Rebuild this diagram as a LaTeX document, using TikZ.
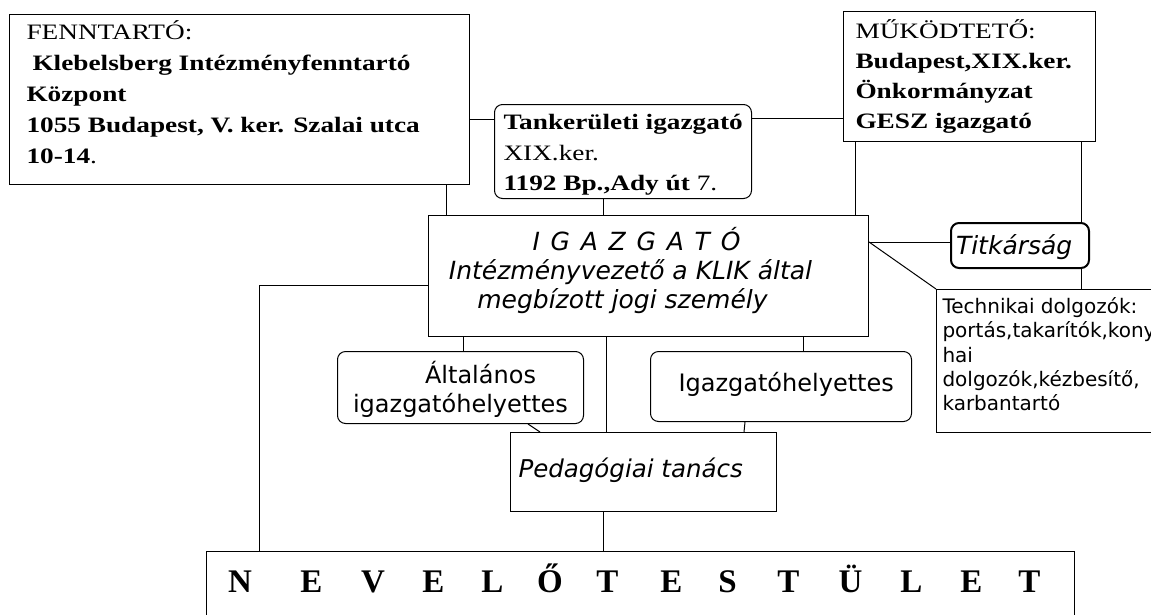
\documentclass[tikz,border=0pt]{standalone}
\usepackage{fontspec}
\usetikzlibrary{calc}
\newfontfamily\topfont[FakeStretch=1.24]{Liberation Serif}
\newfontfamily\nevfont{Liberation Serif}
\newfontfamily\sansf{DejaVu Sans}
\newcommand\nvl[2]{\hspace*{#1pt}\makebox[0pt]{#2}}
\newcommand\lsp{\hspace{10.8pt}}
\begin{document}
\begin{tikzpicture}[x=1pt,y=-1pt,
  box/.style={draw=black,line width=1pt,inner sep=0pt,anchor=north west},
  rbox/.style={box,rounded corners=8pt},
  conn/.style={draw=black,line width=1pt}]
\useasboundingbox (0,0) rectangle (1151,614);
\clip (0,0) rectangle (1151,614);
\fill[white] (0,0) rectangle (1151,614);

% top boxes
\node[box] (fenn) at (9,14) {\begin{minipage}[t][170pt][t]{460pt}\topfont\bfseries\fontsize{22pt}{31pt}\selectfont\leftskip=17pt
\rule{0pt}{25pt}{\mdseries FENNTARTÓ:}\\
\hspace*{6pt}Klebelsberg Intézményfenntartó\\
Központ\\
1055 Budapest, V. ker. Szalai utca\\
10-14{\mdseries .}
\end{minipage}};

\node[rbox] (tank) at (494,104) {\begin{minipage}[t][94pt][t]{257pt}\topfont\bfseries\fontsize{22pt}{30.5pt}\selectfont\leftskip=9pt
\rule{0pt}{25pt}Tankerületi igazgató\\
{\mdseries XIX.ker.}\\
1192 Bp.,Ady út {\mdseries 7.}
\end{minipage}};

\node[box] (muk) at (843,11) {\begin{minipage}[t][130pt][t]{252pt}\topfont\bfseries\fontsize{22pt}{30pt}\selectfont\leftskip=12pt
\rule{0pt}{27pt}{\mdseries MŰKÖDTETŐ:}\\
Budapest,XIX.ker.\\
Önkormányzat\\
GESZ igazgató
\end{minipage}};

% director
\node[box] (igaz) at (428,215) {\begin{minipage}[t][121pt][t]{440pt}\sansf\itshape\fontsize{25pt}{29pt}\selectfont\centering\rightskip=36pt plus 1fil
\rule{0pt}{35pt}\hspace*{12pt}I\lsp G\lsp A\lsp Z\lsp G\lsp A\lsp T\lsp Ó\\
Intézményvezető a KLIK által\\
\hspace*{-16pt}megbízott jogi személy
\end{minipage}};

\node[rbox,line width=2pt] (tit) at (950,222) {\begin{minipage}[t][45pt][t]{138pt}\sansf\itshape\fontsize{25pt}{29pt}\selectfont\leftskip=5pt
\rule{0pt}{31pt}Titkárság
\end{minipage}};

\node[box] (tech) at (936,289) {\begin{minipage}[t][143pt][t]{235pt}\sansf\fontsize{20pt}{24.3pt}\selectfont\leftskip=6pt
\rule{0pt}{24pt}Technikai dolgozók:\\
portás,takarítók,kony-\\
hai\\
dolgozók,kézbesítő,\\
karbantartó
\end{minipage}};

% deputies
\node[rbox] (alt) at (337,351) {\begin{minipage}[t][72pt][t]{246pt}\sansf\fontsize{24pt}{29pt}\selectfont\centering
\rule{0pt}{32pt}\hspace*{40pt}Általános\\
igazgatóhelyettes
\end{minipage}};

\node[rbox] (ih) at (650,351) {\begin{minipage}[t][70pt][t]{261pt}\sansf\fontsize{24pt}{29pt}\selectfont\leftskip=28pt
\rule{0pt}{40pt}Igazgatóhelyettes
\end{minipage}};

\node[box] (ped) at (510,432) {\begin{minipage}[t][79pt][t]{266pt}\sansf\itshape\fontsize{24.5pt}{29pt}\selectfont\leftskip=8pt
\rule{0pt}{45pt}Pedagógiai tanács
\end{minipage}};

\node[box] (nev) at (206,551) {\begin{minipage}[t][80pt][t]{868pt}\nevfont\bfseries\fontsize{33pt}{36pt}\selectfont
\rule{0pt}{41pt}%
\nvl{33.5}{N}\nvl{71.5}{E}\nvl{61.5}{V}\nvl{60.5}{E}\nvl{59}{L}\nvl{57.5}{Ő}\nvl{57.5}{T}%
\nvl{64}{E}\nvl{56}{S}\nvl{61}{T}\nvl{62}{Ü}\nvl{61}{L}\nvl{60}{E}\nvl{58}{T}%
\end{minipage}};

% connectors
\draw[conn] ([yshift=-15pt]tank.north west) coordinate (c1) -- (c1 -| fenn.east);
\draw[conn] ([yshift=-107pt]muk.north west) coordinate (c2) -- (c2 -| tank.east);
\draw[conn] ([xshift=-24pt]fenn.south east) coordinate (c3) -- (c3 |- igaz.north);
\draw[conn] ([xshift=109pt]tank.south west) coordinate (c4) -- (c4 |- igaz.north);
\draw[conn] ([xshift=12pt]muk.south west) coordinate (c5) -- (c5 |- igaz.north);
\draw[conn] ([xshift=-15pt]muk.south east) coordinate (c6) -- (c6 |- tit.north);
\draw[conn] (c6 |- tit.south) -- (c6 |- tech.north);
\draw[conn] ([yshift=-27pt]igaz.north east) coordinate (c8) -- (c8 -| tit.west);
\draw[conn] (c8) -- (tech.north west);
\coordinate (c10n) at ([xshift=53pt]nev.north west);
\draw[conn] ([yshift=-70pt]igaz.north west) -| (c10n);
\draw[conn] ([xshift=35pt]igaz.south west) coordinate (c11) -- (c11 |- alt.north);
\draw[conn] ([xshift=178pt]igaz.south west) coordinate (c12) -- (c12 |- ped.north);
\draw[conn] ([xshift=375pt]igaz.south west) coordinate (c13) -- (c13 |- ih.north);
\draw[conn] ([xshift=191pt]alt.south west) -- ([xshift=30pt]ped.north west);
\draw[conn] ([xshift=95pt]ih.south west) -- ([xshift=-33pt]ped.north east);
\draw[conn] ([xshift=93pt]ped.south west) coordinate (c16) -- (c16 |- nev.north);
\end{tikzpicture}
\end{document}
